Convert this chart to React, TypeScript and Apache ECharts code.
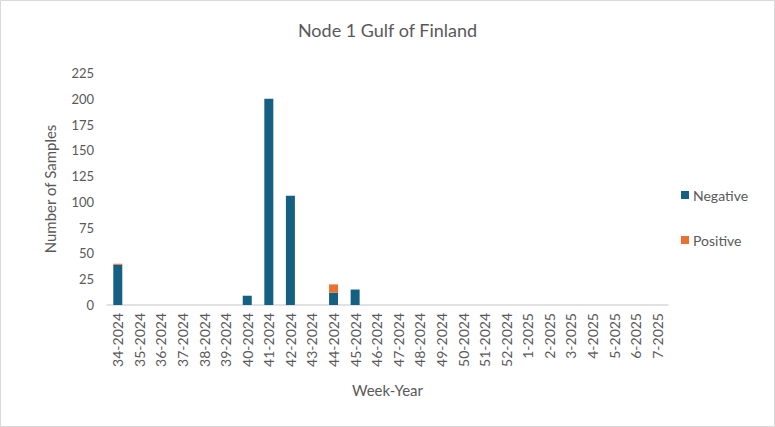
import React, { useEffect, useRef } from "react";
import * as echarts from "echarts";

const categories = [
  "34-2024", "35-2024", "36-2024", "37-2024", "38-2024", "39-2024", "40-2024",
  "41-2024", "42-2024", "43-2024", "44-2024", "45-2024", "46-2024", "47-2024",
  "48-2024", "49-2024", "50-2024", "51-2024", "52-2024", "1-2025", "2-2025",
  "3-2025", "4-2025", "5-2025", "6-2025", "7-2025",
];
const negative = [39, 0, 0, 0, 0, 0, 9, 200, 106, 0, 12, 15, 0, 0, 0, 0, 0, 0, 0, 0, 0, 0, 0, 0, 0, 0];
const positive = [1, 0, 0, 0, 0, 0, 0, 0, 0, 0, 8, 0, 0, 0, 0, 0, 0, 0, 0, 0, 0, 0, 0, 0, 0, 0];

const TXT = "#595959";
const FONT = "Lato";

export default function App() {
  const ref = useRef<HTMLDivElement>(null);
  useEffect(() => {
    document.body.style.margin = "0";
    const chart = echarts.init(ref.current!, null, { renderer: "svg" });
    chart.setOption({
      animation: false,
      backgroundColor: "#ffffff",
      textStyle: { fontFamily: FONT, color: TXT },
      title: {
        text: "Node 1 Gulf of Finland",
        left: "center",
        top: 16,
        textStyle: { fontFamily: FONT, fontSize: 18, fontWeight: "normal", color: TXT },
      },
      graphic: [
        {
          type: "rect",
          shape: { x: 0.5, y: 0.5, width: 774, height: 426 },
          style: { fill: "none", stroke: "#d9d9d9", lineWidth: 1 },
          silent: true,
        },
      ],
      legend: {
        orient: "vertical",
        left: 676,
        top: 183,
        itemWidth: 8,
        itemHeight: 8,
        itemGap: 31,
        icon: "rect",
        textStyle: { fontFamily: FONT, fontSize: 14, color: TXT, padding: [0, 0, 0, -1] },
        data: ["Negative", "Positive"],
      },
      grid: { left: 107, right: 107, top: 73, bottom: 122, containLabel: false },
      xAxis: {
        type: "category",
        data: categories,
        name: "Week-Year",
        nameLocation: "middle",
        nameGap: 77,
        nameTextStyle: { fontFamily: FONT, fontSize: 15, color: TXT },
        axisLine: { lineStyle: { color: "#d9d9d9", width: 1.5 } },
        axisTick: { show: false },
        axisLabel: { rotate: 90, interval: 0, fontFamily: FONT, fontSize: 14, color: TXT, margin: 8 },
      },
      yAxis: {
        type: "value",
        min: 0,
        max: 225,
        interval: 25,
        name: "Number of Samples",
        nameLocation: "middle",
        nameGap: 50,
        nameTextStyle: { fontFamily: FONT, fontSize: 15, color: TXT },
        axisLine: { show: false },
        axisTick: { show: false },
        splitLine: { show: false },
        axisLabel: { fontFamily: FONT, fontSize: 13, color: TXT, margin: 13 },
      },
      series: [
        {
          name: "Negative",
          type: "bar",
          stack: "s",
          data: negative,
          barWidth: 9,
          itemStyle: { color: "#156082" },
        },
        {
          name: "Positive",
          type: "bar",
          stack: "s",
          data: positive,
          barWidth: 9,
          itemStyle: { color: "#E97132" },
        },
      ],
    });
    return () => chart.dispose();
  }, []);
  return <div ref={ref} style={{ width: 775, height: 427 }} />;
}
